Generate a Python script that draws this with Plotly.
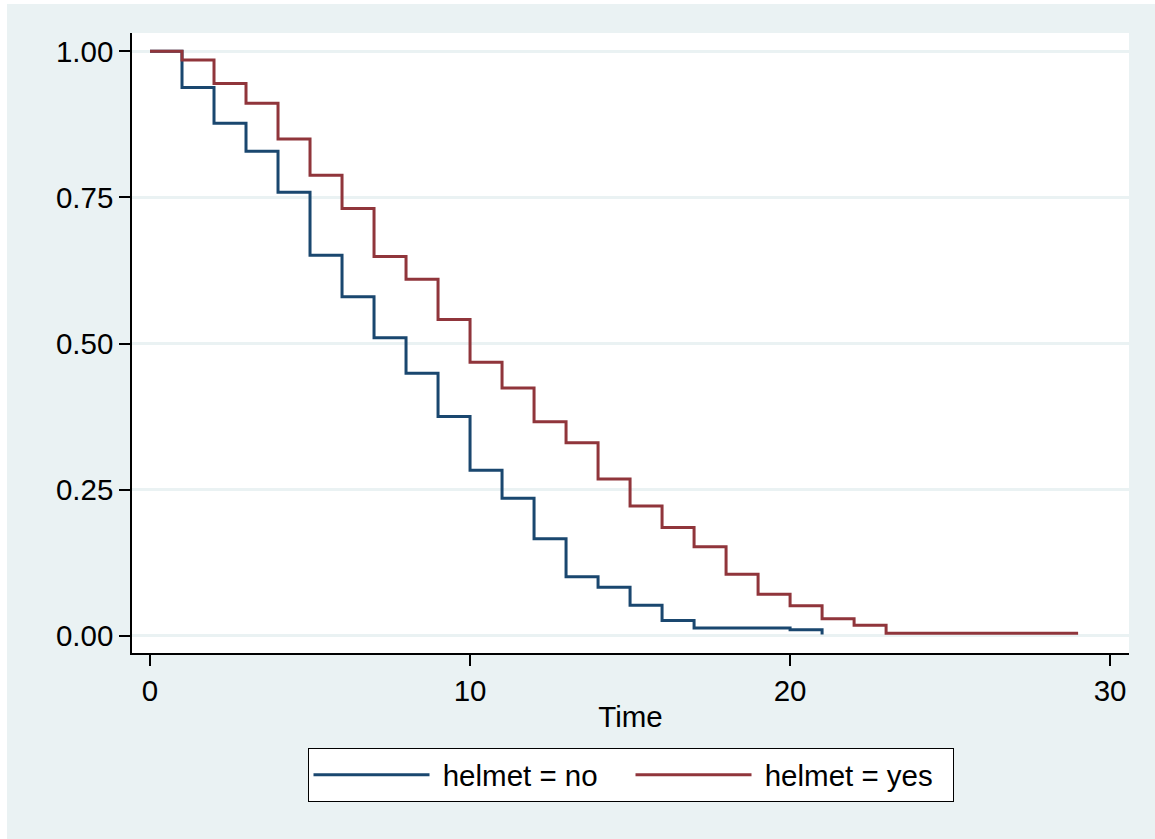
import plotly.graph_objects as go

# Kaplan-Meier survival estimates by helmet use
time_no = [0, 1, 2, 3, 4, 5, 6, 7, 8, 9, 10, 11, 12, 13, 14, 15, 16, 17, 20, 21]
surv_no = [1.000, 0.938, 0.877, 0.829, 0.759, 0.651, 0.580, 0.510, 0.449, 0.375,
           0.283, 0.235, 0.166, 0.101, 0.083, 0.052, 0.026, 0.013, 0.010, 0.002]

time_yes = [0, 1, 2, 3, 4, 5, 6, 7, 8, 9, 10, 11, 12, 13, 14, 15, 16, 17, 18, 19,
            20, 21, 22, 23, 29]
surv_yes = [1.000, 0.985, 0.945, 0.911, 0.850, 0.788, 0.731, 0.649, 0.610, 0.541,
            0.468, 0.424, 0.366, 0.330, 0.268, 0.222, 0.185, 0.152, 0.105, 0.071,
            0.051, 0.029, 0.018, 0.004, 0.004]

series_names = ["helmet = no", "helmet = yes"]
y_ticks = [0, 0.25, 0.5, 0.75, 1.0]
x_ticks = [0, 10, 20, 30]
x_title = "Time"

BLUE = "#1A476F"
RED = "#90353B"
BG = "#EAF2F3"
FONT = "Liberation Sans, Arial, Helvetica, sans-serif"
FS = 29.5

W, H = 1155, 839
L, R, T, B = 132, 26, 33, 186
PW, PH = W - L - R, H - T - B

def px(xp):
    return (xp - L) / PW

def py(yp):
    return (H - B - yp) / PH

NBSP = "\u00a0"

fig = go.Figure()
fig.add_trace(go.Scatter(x=time_no, y=surv_no, mode="lines", name=NBSP + series_names[0],
                         line=dict(color=BLUE, width=3, shape="hv")))
fig.add_trace(go.Scatter(x=time_yes, y=surv_yes, mode="lines", name=NBSP + series_names[1],
                         line=dict(color=RED, width=3, shape="hv")))

fig.update_layout(
    width=W, height=H,
    margin=dict(l=L, r=R, t=T, b=B, pad=0),
    paper_bgcolor=BG,
    plot_bgcolor="white",
    font=dict(family=FONT, size=FS, color="black"),
    showlegend=True,
    legend=dict(
        orientation="h",
        x=0.5, xanchor="center",
        y=py(748), yanchor="top",
        bordercolor="black", borderwidth=1,
        bgcolor="white",
        font=dict(family=FONT, size=FS, color="black"),
        itemwidth=116,
        entrywidth=191, entrywidthmode="pixels",
        itemclick=False,
    ),
    xaxis=dict(
        range=[-0.5625, 30.59],
        tickmode="array", tickvals=x_ticks, ticktext=[str(v) for v in x_ticks],
        ticks="outside", ticklen=11, tickwidth=1.5, tickcolor="black",
        showline=True, linecolor="black", linewidth=1.5,
        showgrid=False, zeroline=False,
        title=dict(text=x_title, font=dict(family=FONT, size=FS), standoff=0),
        tickfont=dict(family=FONT, size=FS),
    ),
    yaxis=dict(
        range=[-0.0297, 1.0314],
        tickmode="array", tickvals=y_ticks, ticktext=[f"{v:.2f}" for v in y_ticks],
        ticks="outside", ticklen=11, tickwidth=1.5, tickcolor="black",
        showline=True, linecolor="black", linewidth=1.5,
        showgrid=True, gridcolor=BG, gridwidth=2.5,
        zeroline=False,
        ticklabelstandoff=0,
        tickfont=dict(family=FONT, size=FS),
    ),
    shapes=[
        dict(type="rect", xref="paper", yref="paper",
             x0=px(-5), x1=px(7), y0=py(H + 5), y1=py(-5),
             fillcolor="white", line=dict(width=0), layer="above"),
        dict(type="rect", xref="paper", yref="paper",
             x0=px(-5), x1=px(W + 5), y0=py(4), y1=py(-5),
             fillcolor="white", line=dict(width=0), layer="above"),
    ],
)

fig.write_html(
    "out.html",
    config={"displayModeBar": False},
    post_script="document.body.style.margin='0';document.body.style.padding='0';",
)
